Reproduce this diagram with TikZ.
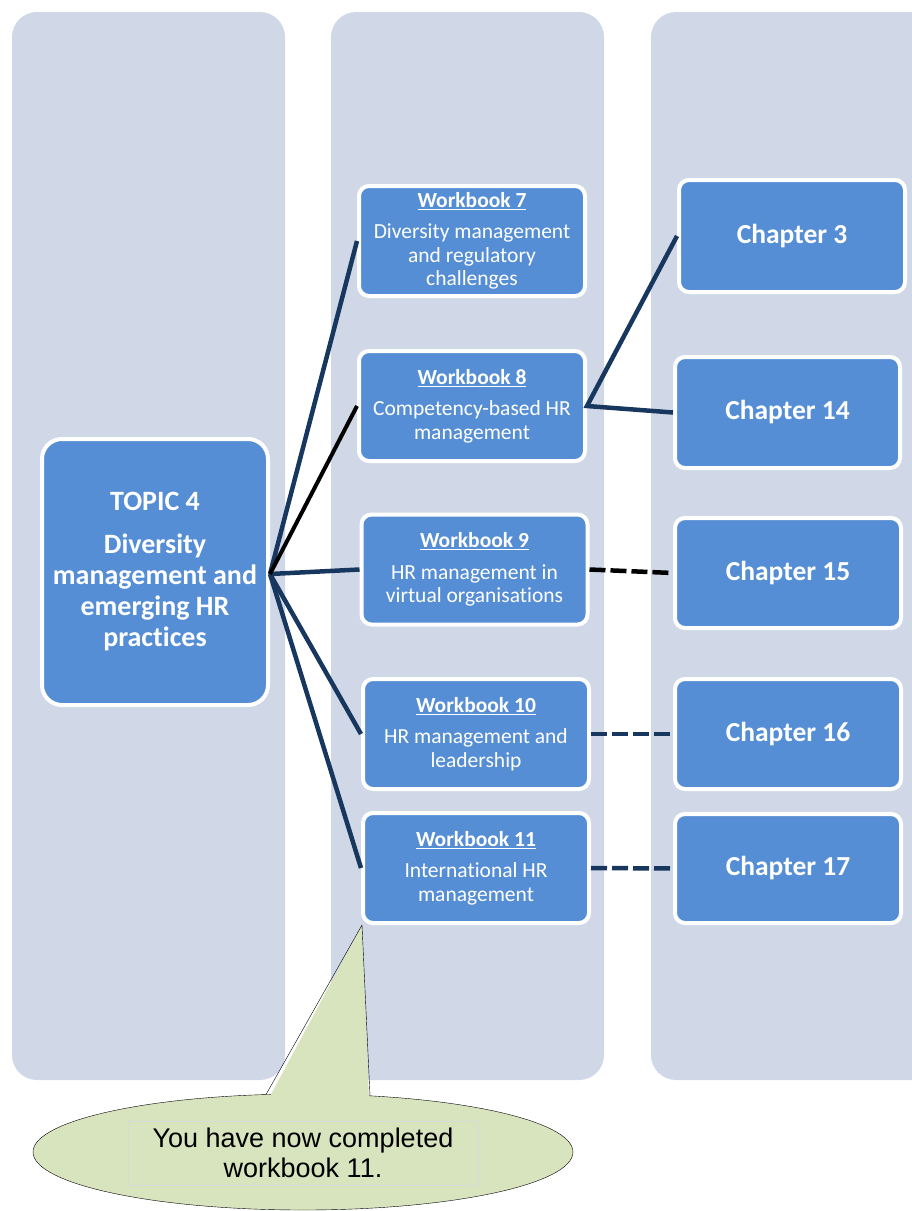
\documentclass[tikz,border=0pt]{standalone}
\usepackage{fontspec}
\setmainfont{Carlito}[Ligatures={NoCommon}]
\newfontfamily\arialfont{Liberation Sans}
\definecolor{colbg}{RGB}{208,216,232}
\definecolor{boxblue}{RGB}{85,142,213}
\definecolor{navy}{RGB}{23,55,94}
\definecolor{callgreen}{RGB}{215,228,189}
\begin{document}
\begin{tikzpicture}[x=1pt,y=-1pt,
	column/.style={fill=colbg, rounded corners=25pt},
	wbox/.style={draw=white, line width=4pt, fill=boxblue, rounded corners=10pt, text=white, align=center,
		minimum width=226pt, minimum height=110pt, inner sep=0pt, font=\fontsize{21.5}{23.5}\selectfont},
	chbox/.style={wbox, font=\bfseries\fontsize{27.5}{30}\selectfont},
	link/.style={navy, line width=4.5pt},
	dlink/.style={link, dash pattern=on 16pt off 5pt}]
	\clip (0,0) rectangle (912,1211);
	% background columns
	\fill[column] (12,12) rectangle (285,1080);
	\fill[column] (331,12) rectangle (604,1080);
	\fill[column] (651,12) rectangle (950,1080);
	% topic
	\node[wbox, rounded corners=20pt, minimum width=226pt, minimum height=266pt, font=\bfseries\fontsize{28}{31}\selectfont] (topic) at (155,572)
		{TOPIC 4\\[12pt]Diversity\\management and\\emerging HR\\practices};
	% workbooks
	\node[wbox] (wb7) at (472,241) {\textbf{\underline{Workbook 7}}\\[8pt]Diversity management\\and regulatory\\challenges};
	\node[wbox] (wb8) at (472,406) {\textbf{\underline{Workbook 8}}\\[8pt]Competency-based HR\\management};
	\node[wbox] (wb9) at (474.5,569.5) {\textbf{\underline{Workbook 9}}\\[8pt]HR management in\\virtual organisations};
	\node[wbox] (wb10) at (476,734) {\textbf{\underline{Workbook 10}}\\[8pt]HR management and\\leadership};
	\node[wbox] (wb11) at (476,868) {\textbf{\underline{Workbook 11}}\\[8pt]International HR\\management};
	% chapters
	\node[chbox, minimum height=112pt] (ch3) at (792,236) {Chapter 3};
	\node[chbox, minimum width=225pt, minimum height=111pt] (ch14) at (787.5,412.5) {Chapter 14};
	\node[chbox] (ch15) at (788,573) {Chapter 15};
	\node[chbox] (ch16) at (788,734) {Chapter 16};
	\node[chbox, minimum height=109pt] (ch17) at (788,868.5) {Chapter 17};
	% connectors
	\coordinate (hub) at ([yshift=-2pt]topic.east);
	\foreach \w in {wb7,wb9,wb10,wb11}
		\draw[link] (hub) -- (\w.west);
	\draw[link, black, line width=4pt] (hub) -- (wb8.west);
	\draw[link] (ch3.west) -- (wb8.east) -- (ch14.west);
	\draw[dlink, black] (wb9.east) -- (ch15.west);
	\draw[dlink] (wb10.east) -- (ch16.west);
	\draw[dlink] (wb11.east) -- (ch17.west);
	% callout
	\coordinate (tip) at ([xshift=1pt]wb11.south west);
	\draw[fill=callgreen, thin] (303,1152) ellipse [x radius=270, y radius=58];
	\fill[callgreen] (268,1100) -- (tip) -- (369,1100) -- cycle;
	\draw[thin] (266,1094.5) -- (tip) -- (370,1095.8);
	\node[draw=black!15, fill=callgreen, minimum width=350pt, minimum height=64pt, align=center,
		font=\arialfont\fontsize{27}{30}\selectfont] (msg) at (303,1153) {You have now completed\\workbook 11.};
\end{tikzpicture}
\end{document}
